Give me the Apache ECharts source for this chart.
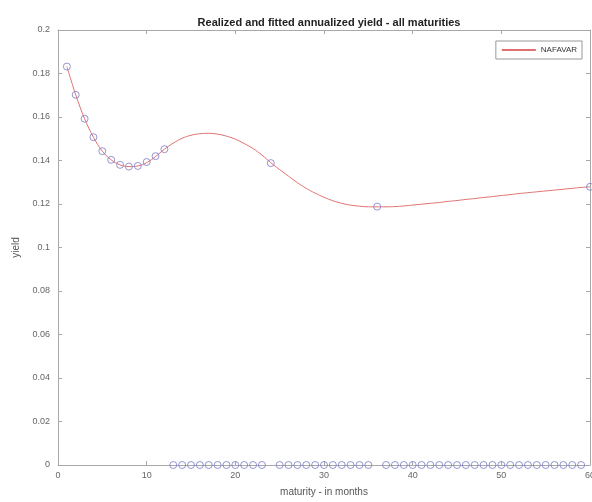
<!DOCTYPE html>
<html>
<head>
<meta charset="utf-8">
<script src="https://cdn.jsdelivr.net/npm/echarts@6/dist/echarts.min.js"></script>
<style>html,body{margin:0;padding:0;background:#fff}#c{width:592px;height:502px}</style>
</head>
<body>
<div id="c"></div>
<script>
// Realized yields (months 1..60); 0 where not observed
const realizedMonths = [1,2,3,4,5,6,7,8,9,10,11,12,13,14,15,16,17,18,19,20,21,22,23,24,25,26,27,28,29,30,31,32,33,34,35,36,37,38,39,40,41,42,43,44,45,46,47,48,49,50,51,52,53,54,55,56,57,58,59,60];
const realizedYield = [0.1832,0.1702,0.1592,0.1507,0.1443,0.1403,0.1380,0.1372,0.1375,0.1393,0.1420,0.1452,
  0,0,0,0,0,0,0,0,0,0,0,0.1388,
  0,0,0,0,0,0,0,0,0,0,0,0.1188,
  0,0,0,0,0,0,0,0,0,0,0,0,0,0,0,0,0,0,0,0,0,0,0,0.1279];
// Fitted curve (NAFAVAR)
const fittedMonths = realizedMonths;
const fittedYield = [0.1832,0.1702,0.1592,0.1507,0.1443,0.1403,0.1380,0.1372,0.1375,0.1390,0.1418,0.1452,
  0.1480,0.1502,0.1516,0.1523,0.1525,0.1521,0.1512,0.1498,0.1478,0.1455,0.1425,0.1390,
  0.1358,0.1328,0.1298,0.1272,0.1250,0.1231,0.1215,0.1203,0.1195,0.1190,0.1187,0.1187,
  0.1187,0.1188,0.1191,0.1195,0.1199,0.1203,0.1207,0.1212,0.1216,0.1221,0.1225,0.1230,
  0.1234,0.1239,0.1243,0.1248,0.1252,0.1256,0.1260,0.1264,0.1268,0.1272,0.1276,0.1279];
const xTicks = {min:0, max:60, interval:10};
const yTicks = {min:0, max:0.2, interval:0.02};

const axisCol = '#a8a8a8';
const labelCol = '#666';
const chart = echarts.init(document.getElementById('c'), null, {renderer:'canvas'});
const baseAxisLine = {show:true, onZero:false, lineStyle:{color:axisCol, width:1}};
const tick = {show:true, inside:true, length:4, lineStyle:{color:axisCol}};
chart.setOption({
  animation:false,
  title:{text:'Realized and fitted annualized yield - all maturities', left:324, top:12, textAlign:'center',
    textStyle:{fontFamily:'Liberation Sans, Arial', fontWeight:'bold', fontSize:11, color:'#222'}},
  legend:{data:['NAFAVAR'], right:10, top:41, orient:'vertical', itemWidth:34, itemHeight:2, itemGap:0,
    padding:[5,5,5,6], borderColor:'#999', borderWidth:1, backgroundColor:'#fff', icon:'rect',
    textStyle:{fontFamily:'Liberation Sans, Arial', fontSize:8, color:'#333'}},
  grid:{left:58, right:2, top:30, bottom:37, outerBoundsMode:'none', containLabel:false},
  xAxis:[{type:'value', min:xTicks.min, max:xTicks.max, interval:xTicks.interval,
      name:'maturity - in months', nameLocation:'middle', nameGap:22,
      nameTextStyle:{fontFamily:'Liberation Sans, Arial', fontSize:10, color:'#555'},
      axisLine:baseAxisLine, axisTick:tick,
      axisLabel:{color:labelCol, fontSize:9, fontFamily:'Liberation Sans, Arial', margin:6},
      splitLine:{show:false}},
    {type:'value', position:'top', min:xTicks.min, max:xTicks.max, interval:xTicks.interval,
      axisLine:baseAxisLine, axisTick:tick,
      axisLabel:{show:false}, splitLine:{show:false}}],
  yAxis:[{type:'value', min:yTicks.min, max:yTicks.max, interval:yTicks.interval,
      name:'yield', nameLocation:'middle', nameGap:36,
      nameTextStyle:{fontFamily:'Liberation Sans, Arial', fontSize:10, color:'#555'},
      axisLine:baseAxisLine, axisTick:tick,
      axisLabel:{color:labelCol, fontSize:9, fontFamily:'Liberation Sans, Arial', margin:8},
      splitLine:{show:false}},
    {type:'value', position:'right', min:yTicks.min, max:yTicks.max, interval:yTicks.interval,
      axisLine:baseAxisLine, axisTick:tick,
      axisLabel:{show:false}, splitLine:{show:false}}],
  series:[
    {name:'NAFAVAR', type:'line', smooth:0.4, showSymbol:false, symbol:'none',
      data:fittedMonths.map((m,i)=>[m,fittedYield[i]]),
      lineStyle:{color:'#e07070', width:1}, itemStyle:{color:'#e07070'}, z:2},
    {name:'realized', type:'scatter', symbol:'circle', symbolSize:7,
      data:realizedMonths.map((m,i)=>[m,realizedYield[i]]),
      itemStyle:{color:'rgba(255,255,255,0)', borderColor:'#7a7ac4', borderWidth:1}, z:3}
  ]
});
</script>
</body>
</html>
